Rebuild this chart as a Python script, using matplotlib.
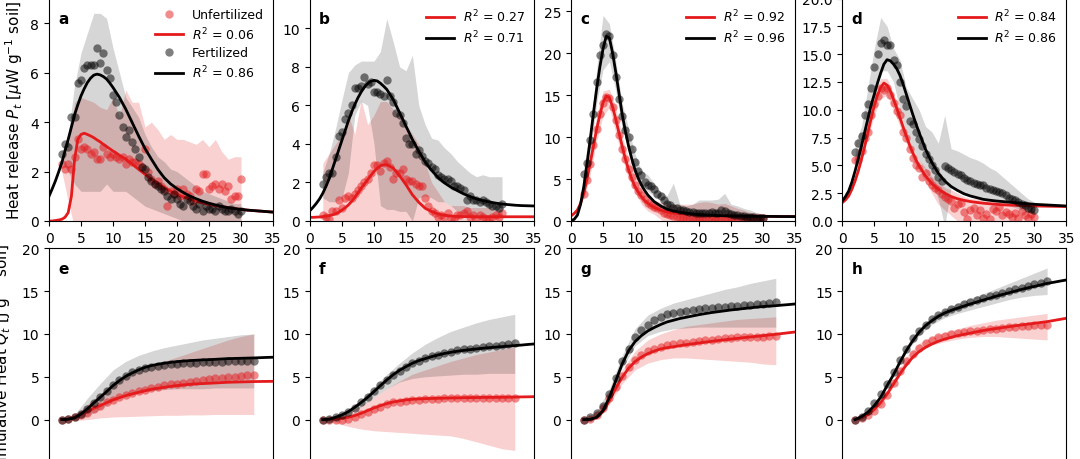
import numpy as np
import matplotlib
matplotlib.use('Agg')
import matplotlib.pyplot as plt

# ---- time grids (days) ----
t_pts_top = np.arange(2, 30.5, 0.5)
t_band_top = np.arange(2, 31, 1)
t_fit_top = np.concatenate([np.arange(0, 12, 0.5), np.arange(12, 36, 1)])
t_pts_bot = np.arange(2, 33, 1)
t_band_bot = np.arange(2, 33, 2)
t_fit_bot = np.arange(2, 36, 1)

r2_unf = ['0.06', '0.27', '0.92', '0.84']
r2_fer = ['0.86', '0.71', '0.96', '0.86']

# ---- heat release, measured points ----
a_unf = [2.3, 2.1, 2.3, 2.1, 2.6, 3.3, 2.9, 3.0, 2.9, 2.7, 2.8, 2.5, 2.5, 3.0, 2.7, 2.6, 2.7, 2.6, 2.5, 2.6,
         2.3, 2.5, 2.4, 2.4, 2.3, 2.2, 2.9, 2.0, 1.7, 1.5, 1.6, 1.4, 1.3, 0.6, 1.2, 1.1, 1.3, 1.0, 1.3, 1.1,
         1.0, 0.8, 1.3, 1.2, 1.9, 1.9, 1.3, 1.4, 1.5, 1.3, 1.5, 1.2, 1.4, 0.9, 1.0, 1.0, 1.7]
a_fer = [2.7, 3.1, 3.0, 4.2, 4.2, 5.6, 5.7, 6.2, 6.3, 6.3, 6.3, 7.0, 6.4, 6.8, 6.1, 5.8, 5.1, 4.8, 4.3, 3.8,
         3.4, 3.7, 3.2, 2.9, 2.6, 2.2, 2.1, 1.8, 1.6, 1.5, 1.4, 1.3, 1.2, 1.0, 0.9, 1.1, 0.9, 0.7, 0.6, 0.9,
         0.8, 0.6, 0.5, 0.7, 0.4, 0.6, 0.5, 0.5, 0.4, 0.6, 0.5, 0.4, 0.4, 0.5, 0.4, 0.3, 0.4]
b_unf = [0.3, 0.2, 0.1, 0.5, 0.5, 1.1, 0.7, 1.2, 1.3, 1.2, 1.4, 1.6, 1.8, 2.0, 2.2, 2.5, 2.9, 2.9, 2.6, 3.0,
         3.1, 2.8, 2.2, 2.5, 2.5, 2.7, 2.2, 2.1, 2.1, 1.9, 1.8, 1.8, 1.2, 0.8, 0.5, 0.4, 0.2, 0.3, 0.2, 0.4,
         0.1, 0.1, 0.3, 0.3, 0.4, 0.5, 0.2, 0.3, 0.1, 0.3, 0.2, 0.1, 0.1, 0.2, 0.3, 0.2, 0.4]
b_fer = [1.9, 2.3, 2.5, 2.5, 3.3, 4.4, 4.6, 5.3, 5.6, 6.0, 6.9, 6.9, 7.0, 7.5, 7.1, 7.2, 6.7, 6.7, 6.6, 6.5,
         7.3, 6.5, 6.2, 5.6, 5.5, 5.1, 4.3, 4.0, 4.0, 3.5, 3.7, 3.4, 3.1, 3.0, 2.8, 2.7, 2.4, 2.3, 2.2, 2.2,
         2.1, 1.8, 1.8, 1.7, 1.6, 1.1, 1.3, 1.1, 1.1, 1.0, 1.1, 1.0, 0.9, 0.8, 0.8, 0.7, 0.9]
c_unf = [3.2, 4.9, 6.8, 9.0, 11.0, 12.8, 14.0, 14.8, 14.6, 13.6, 12.0, 10.2, 8.6, 7.4, 6.2, 5.2, 4.3, 3.6, 3.1, 2.6,
         2.2, 1.9, 1.7, 1.5, 1.3, 1.0, 0.8, 0.7, 0.6, 0.5, 0.4, 0.4, 0.3, 0.3, 0.3, 0.3, 0.3, 0.4, 0.4, 0.3,
         0.3, 0.4, 0.3, 0.3, 0.3, 0.4, 0.3, 0.2, 0.3, 0.3, 0.2, 0.3, 0.2, 0.3, 0.2, 0.3, 0.3]
c_fer = [5.6, 6.9, 9.6, 12.8, 16.5, 19.8, 21.0, 22.3, 22.0, 19.8, 17.2, 14.5, 12.5, 10.8, 10.0, 8.6, 7.0, 6.0, 5.5, 4.6,
         4.3, 4.2, 3.8, 3.2, 3.0, 2.5, 2.0, 1.9, 1.6, 1.5, 1.3, 1.3, 1.2, 1.1, 1.1, 1.0, 1.0, 0.9, 1.0, 0.9,
         1.1, 1.0, 1.0, 1.3, 1.2, 0.9, 0.8, 0.7, 0.7, 0.6, 0.6, 0.5, 0.5, 0.5, 0.4, 0.4, 0.4]
d_unf = [5.5, 5.5, 6.3, 7.5, 8.0, 9.5, 10.5, 11.2, 12.0, 11.8, 12.0, 11.3, 10.6, 9.9, 9.5, 8.0, 7.5, 6.5, 5.7, 5.0,
         4.8, 4.0, 4.3, 3.6, 3.2, 3.0, 2.8, 2.4, 2.2, 2.0, 1.8, 1.2, 1.5, 1.6, 0.8, 0.2, 1.0, 1.2, 0.5, 1.0,
         0.3, 0.6, 0.2, 1.1, 0.9, 1.3, 0.5, 0.8, 0.6, 0.4, 0.7, 0.3, 0.9, 0.5, 0.3, 0.6, 0.4]
d_fer = [6.2, 7.0, 7.6, 9.5, 10.5, 12.0, 13.8, 15.0, 16.0, 16.3, 15.8, 15.8, 14.5, 14.0, 12.5, 11.0, 10.3, 9.0, 8.7, 8.0,
         7.4, 6.7, 6.0, 5.6, 5.0, 4.6, 4.0, 3.6, 4.9, 4.8, 4.6, 4.4, 4.2, 4.1, 3.9, 3.7, 3.6, 3.4, 3.3, 3.2,
         3.2, 3.0, 2.9, 2.8, 2.7, 2.6, 2.5, 2.3, 2.1, 2.0, 1.9, 1.7, 1.5, 1.4, 1.2, 1.1, 1.0]

# ---- heat release, spread between replicates ----
a_unf_lo = [2.0, 0.8, -0.3, -0.5, -0.5, -0.5, -0.5, -0.5, -0.5, -0.5, -0.5, -0.5, -0.5, -0.5, -0.5,
            -0.5, -0.5, -0.5, -0.5, -0.5, -0.5, -0.5, -0.5, -0.5, -0.5, -0.5, -0.5, -0.5, -0.5]
a_unf_hi = [2.6, 3.0, 4.8, 5.0, 4.9, 4.8, 4.6, 4.5, 5.0, 4.2, 5.3, 4.8, 4.8, 3.8, 4.0,
            3.7, 3.3, 3.5, 3.3, 3.3, 3.2, 3.1, 3.3, 3.0, 3.3, 2.8, 2.5, 2.6, 2.6]
a_fer_lo = [2.4, 2.0, 1.5, 1.2, 1.2, 1.2, 1.2, 1.5, 1.2, 1.2, 1.2, 1.0, 0.8, 0.6, 0.5,
            0.4, 0.3, 0.2, 0.1, 0.0, -0.2, -0.2, -0.2, -0.2, -0.2, -0.2, -0.2, -0.2, -0.2]
a_fer_hi = [2.8, 3.5, 5.5, 6.8, 7.6, 8.4, 8.4, 8.2, 7.0, 6.0, 5.0, 4.6, 4.2, 3.5, 3.0,
            2.6, 2.4, 2.1, 2.0, 1.8, 1.6, 1.4, 1.2, 1.1, 1.0, 0.9, 0.8, 0.7, 0.7]
b_unf_lo = [-0.5] * 29
b_unf_hi = [3.0, 3.5, 4.0, 4.5, 5.5, 4.5, 6.3, 5.0, 5.5, 6.2, 6.2, 5.8, 5.5, 5.0, 4.5,
            4.0, 3.0, 2.0, 1.5, 1.0, 0.8, 0.8, 0.8, 0.7, 0.7, 0.7, 0.7, 0.6, 0.6]
b_fer_lo = [1.2, 1.0, 1.0, 1.2, 2.5, 5.5, 6.2, 6.0, 4.0, 0.8, 0.6, 0.6, 0.5, 0.5, 0.0,
            1.2, 1.3, 1.2, 1.0, 1.0, 0.8, 0.5, 0.4, 0.3, 0.3, 0.2, 0.2, 0.2, 0.2]
b_fer_hi = [2.5, 3.5, 4.8, 6.3, 7.7, 8.1, 8.3, 8.3, 8.3, 8.8, 10.5, 9.3, 8.0, 7.8, 8.6,
            6.0, 5.0, 4.3, 4.2, 3.8, 3.5, 3.1, 2.8, 2.5, 2.3, 2.4, 2.3, 2.3, 2.3]
c_unf_lo = [2.5, 5.5, 9.5, 12.5, 13.5, 10.5, 7.5, 5.0, 3.5, 2.0, 1.2, 0.8, 0.2, -0.5, -0.5,
            -0.5, -0.5, -0.5, -0.5, -0.5, -0.5, -0.5, -0.5, -0.5, -0.5, -0.5, -0.5, -0.5, -0.5]
c_unf_hi = [4.0, 8.0, 12.5, 15.5, 15.7, 13.5, 10.0, 7.5, 5.5, 4.0, 3.0, 2.5, 2.2, 2.0, 2.0,
            2.0, 2.0, 2.0, 2.2, 2.3, 2.2, 2.0, 2.1, 1.8, 1.5, 1.3, 1.0, 1.0, 0.8]
c_fer_lo = [4.5, 8.0, 14.0, 18.0, 19.0, 15.5, 11.0, 8.5, 6.0, 4.5, 3.5, 3.0, 2.5, 1.5, 0.7,
            0.5, 0.3, -0.3, -0.3, -0.3, -0.3, -0.3, -0.3, -0.3, -0.3, -0.3, -0.3, -0.3, -0.3]
c_fer_hi = [6.5, 11.0, 18.0, 24.5, 23.5, 19.0, 14.0, 11.0, 8.0, 6.0, 5.5, 4.5, 3.5, 3.0, 4.5,
            2.0, 1.8, 2.0, 2.5, 2.5, 2.5, 2.6, 3.3, 2.0, 1.8, 1.5, 1.3, 1.0, 0.8]
d_unf_lo = [5.0, 5.8, 7.5, 9.5, 11.0, 11.3, 10.0, 8.5, 7.0, 5.5, 4.5, 3.5, 2.5, 1.5, 1.0,
            0.5, 0.0, -0.5, -0.5, -0.5, -0.5, -0.5, -0.5, -0.5, -0.5, -0.5, -0.5, -0.5, -0.5]
d_unf_hi = [6.0, 7.0, 9.0, 11.5, 12.8, 12.8, 11.5, 10.0, 8.0, 6.5, 5.5, 4.8, 4.0, 3.5, 3.0,
            2.8, 2.5, 2.2, 2.0, 2.0, 1.9, 1.9, 1.8, 1.8, 1.8, 1.7, 1.7, 1.6, 1.6]
d_fer_lo = [5.5, 6.5, 8.5, 11.0, 13.5, 13.5, 12.5, 10.0, 8.0, 6.5, 5.5, 4.5, 3.5, 2.0, -0.5,
            3.0, 2.8, 2.5, 2.3, 2.2, 2.0, 2.0, 1.8, 1.6, 1.4, 1.2, 1.0, 0.8, 0.6]
d_fer_hi = [7.0, 8.5, 12.0, 15.5, 18.3, 17.5, 15.5, 14.5, 12.0, 11.0, 10.0, 8.5, 8.0, 7.0, 9.5,
            6.5, 6.3, 6.0, 5.7, 5.5, 5.2, 4.8, 4.5, 4.0, 3.5, 3.0, 2.5, 2.0, 1.7]

# ---- heat release, fitted curves ----
a_unf_fit = [0.0, 0.0, 0.02, 0.04, 0.07, 0.15, 0.34, 1.0, 2.5, 3.3, 3.5, 3.55, 3.5, 3.44, 3.37, 3.28,
             3.2, 3.1, 3.01, 2.92, 2.83, 2.75, 2.66, 2.58,
             2.5, 2.3, 2.09, 1.89, 1.69, 1.52, 1.35, 1.21, 1.08, 0.97, 0.88, 0.8, 0.73, 0.67, 0.62, 0.58,
             0.54, 0.5, 0.47, 0.44, 0.42, 0.4, 0.38, 0.36]
a_fer_fit = [1.0, 1.3, 1.62, 1.98, 2.36, 2.83, 3.3, 3.8, 4.3, 4.7, 5.06, 5.35, 5.6, 5.78, 5.9, 5.94,
             5.91, 5.84, 5.74, 5.58, 5.4, 5.2, 5.0, 4.76,
             4.52, 3.98, 3.44, 2.93, 2.5, 2.09, 1.75, 1.5, 1.31, 1.15, 1.01, 0.9, 0.8, 0.72, 0.65, 0.59,
             0.54, 0.5, 0.47, 0.44, 0.42, 0.4, 0.38, 0.36]
b_unf_fit = [0.19, 0.19, 0.2, 0.21, 0.23, 0.25, 0.28, 0.32, 0.37, 0.46, 0.57, 0.69, 0.83, 1.02, 1.23, 1.46,
             1.7, 1.92, 2.14, 2.36, 2.57, 2.74, 2.87, 2.92,
             2.92, 2.75, 2.35, 1.88, 1.36, 0.97, 0.66, 0.49, 0.37, 0.3, 0.26, 0.24, 0.23, 0.23, 0.22, 0.22,
             0.22, 0.22, 0.22, 0.22, 0.22, 0.22, 0.22, 0.22]
b_fer_fit = [0.54, 0.72, 0.92, 1.15, 1.44, 1.8, 2.2, 2.7, 3.2, 3.7, 4.2, 4.7, 5.2, 5.65, 6.05, 6.4,
             6.7, 6.95, 7.13, 7.25, 7.3, 7.27, 7.15, 7.0,
             6.83, 6.31, 5.62, 4.92, 4.23, 3.62, 3.06, 2.63, 2.26, 1.98, 1.76, 1.58, 1.41, 1.27, 1.15, 1.06,
             0.99, 0.93, 0.88, 0.85, 0.82, 0.8, 0.79, 0.78]
c_unf_fit = [0.6, 0.9, 1.3, 2.1, 3.3, 5.0, 6.9, 8.9, 10.9, 12.6, 14.1, 14.9, 14.7, 13.6, 12.1, 10.5,
             8.9, 7.4, 6.1, 5.0, 4.1, 3.45, 2.9, 2.45,
             2.1, 1.6, 1.3, 1.08, 0.96, 0.87, 0.8, 0.76, 0.72, 0.69, 0.66, 0.64, 0.62, 0.6, 0.59, 0.58,
             0.57, 0.56, 0.56, 0.55, 0.54, 0.53, 0.53, 0.52]
c_fer_fit = [0.05, 0.2, 0.7, 2.0, 4.1, 6.8, 9.7, 12.8, 15.7, 18.3, 20.5, 22.0, 21.8, 20.0, 17.7, 15.2,
             12.7, 10.7, 8.9, 7.4, 6.1, 5.1, 4.3, 3.65,
             3.1, 2.3, 1.8, 1.4, 1.2, 1.05, 0.92, 0.84, 0.76, 0.72, 0.68, 0.65, 0.62, 0.6, 0.59, 0.58,
             0.57, 0.56, 0.56, 0.55, 0.54, 0.53, 0.53, 0.52]
d_unf_fit = [1.65, 1.9, 2.25, 2.85, 3.6, 4.5, 5.55, 6.7, 7.95, 9.2, 10.35, 11.3, 12.0, 12.4, 12.2, 11.7,
             10.95, 10.15, 9.3, 8.45, 7.65, 6.85, 6.15, 5.5,
             4.95, 4.05, 3.36, 2.85, 2.5, 2.2, 2.0, 1.86, 1.75, 1.67, 1.6, 1.55, 1.5, 1.46, 1.43, 1.41,
             1.39, 1.37, 1.35, 1.34, 1.33, 1.32, 1.31, 1.3]
d_fer_fit = [1.8, 2.2, 2.7, 3.5, 4.5, 5.6, 6.75, 8.0, 9.2, 10.4, 11.4, 12.4, 13.3, 14.1, 14.5, 14.4,
             14.1, 13.7, 13.1, 12.3, 11.4, 10.5, 9.6, 8.75,
             7.95, 6.45, 5.25, 4.3, 3.6, 3.1, 2.75, 2.45, 2.25, 2.1, 1.95, 1.87, 1.8, 1.75, 1.7, 1.65,
             1.6, 1.55, 1.5, 1.47, 1.44, 1.41, 1.38, 1.35]

# ---- cumulative heat, measured points ----
e_unf = [0, 0.1, 0.3, 0.5, 0.8, 1.2, 1.6, 2.0, 2.3, 2.6, 2.9, 3.1, 3.3, 3.5, 3.7, 3.8,
         4.0, 4.1, 4.2, 4.3, 4.4, 4.5, 4.6, 4.7, 4.8, 4.9, 5.0, 5.0, 5.1, 5.2, 5.2]
e_fer = [0, 0.1, 0.3, 0.7, 1.2, 1.9, 2.6, 3.3, 4.0, 4.6, 5.1, 5.5, 5.8, 6.0, 6.2, 6.3,
         6.4, 6.5, 6.5, 6.6, 6.6, 6.6, 6.7, 6.7, 6.7, 6.7, 6.8, 6.8, 6.8, 6.8, 6.8]
f_unf = [0, -0.05, -0.1, -0.05, 0.1, 0.3, 0.6, 0.9, 1.2, 1.5, 1.8, 2.0, 2.1, 2.2, 2.3, 2.3,
         2.4, 2.4, 2.4, 2.5, 2.5, 2.5, 2.5, 2.5, 2.5, 2.5, 2.5, 2.5, 2.5, 2.5, 2.5]
f_fer = [0, 0.1, 0.3, 0.5, 0.9, 1.4, 2.0, 2.6, 3.3, 4.0, 4.6, 5.2, 5.7, 6.2, 6.6, 6.9,
         7.2, 7.4, 7.6, 7.8, 7.9, 8.1, 8.2, 8.3, 8.4, 8.5, 8.6, 8.6, 8.7, 8.8, 8.9]
g_unf = [0, 0.1, 0.5, 1.3, 2.5, 3.8, 5.1, 6.2, 7.0, 7.6, 8.0, 8.3, 8.5, 8.7, 8.8, 8.9,
         9.0, 9.1, 9.2, 9.3, 9.3, 9.4, 9.5, 9.5, 9.6, 9.6, 9.7, 9.7, 9.7, 9.8, 9.8]
g_fer = [0.0, 0.3, 0.8, 1.6, 3.0, 4.8, 6.8, 8.3, 9.6, 10.5, 11.1, 11.6, 12.0, 12.3, 12.5, 12.6,
         12.7, 12.8, 12.9, 13.0, 13.0, 13.1, 13.2, 13.3, 13.3, 13.4, 13.4, 13.5, 13.5, 13.6, 13.7]
h_unf = [0, 0.2, 0.5, 1.0, 1.8, 2.9, 4.3, 5.7, 6.8, 7.7, 8.4, 8.9, 9.3, 9.6, 9.8, 9.95,
         10.1, 10.2, 10.3, 10.4, 10.5, 10.6, 10.6, 10.7, 10.8, 10.8, 10.9, 10.9, 11.0, 11.0, 11.0]
h_fer = [0, 0.3, 1.0, 1.9, 3.0, 4.2, 5.5, 7.0, 8.3, 9.5, 10.4, 11.1, 11.7, 12.2, 12.6, 12.9,
         13.2, 13.5, 13.7, 14.0, 14.2, 14.4, 14.6, 14.8, 15.0, 15.2, 15.4, 15.6, 15.8, 16.0, 16.2]

# ---- cumulative heat, spread ----
e_unf_lo = [0, -0.1, 0.0, 0.2, 0.3, 0.35, 0.4, 0.45, 0.5, 0.5, 0.55, 0.55, 0.6, 0.6, 0.6, 0.6]
e_unf_hi = [0, 0.5, 1.8, 3.0, 4.2, 5.0, 5.7, 6.2, 6.8, 7.3, 7.8, 8.3, 8.8, 9.3, 9.7, 10.0]
e_fer_lo = [0, 0.0, 0.4, 1.2, 2.2, 2.8, 3.2, 3.4, 3.5, 3.6, 3.6, 3.6, 3.7, 3.7, 3.7, 3.7]
e_fer_hi = [0, 0.6, 2.5, 4.2, 5.8, 6.8, 7.5, 8.0, 8.4, 8.7, 9.0, 9.3, 9.5, 9.7, 9.9, 10.0]
f_unf_lo = [0, -0.4, -0.8, -1.1, -1.3, -1.4, -1.5, -1.6, -1.7, -1.8, -1.9, -2.2, -2.6, -3.0, -3.4, -3.6]
f_unf_hi = [0, 0.3, 0.8, 1.6, 2.6, 3.6, 4.5, 5.3, 5.8, 6.3, 6.8, 7.2, 7.6, 7.9, 8.2, 8.5]
f_fer_lo = [0, 0.2, 0.7, 1.5, 2.6, 3.6, 4.4, 4.8, 5.0, 5.1, 5.2, 5.3, 5.3, 5.4, 5.4, 5.4]
f_fer_hi = [0, 0.4, 1.1, 2.3, 3.8, 5.3, 6.6, 7.8, 8.8, 9.6, 10.3, 10.8, 11.3, 11.7, 12.0, 12.3]
g_unf_lo = [0, 0.1, 1.8, 4.2, 5.8, 6.6, 7.0, 7.2, 7.2, 7.1, 7.0, 6.9, 6.8, 6.7, 6.5, 6.4]
g_unf_hi = [0, 0.5, 2.8, 5.8, 8.0, 9.3, 10.0, 10.5, 10.9, 11.1, 11.3, 11.5, 11.7, 11.8, 11.9, 12.0]
g_fer_lo = [0, 0.6, 2.5, 6.0, 8.6, 9.8, 10.3, 10.6, 10.7, 10.8, 10.8, 10.8, 10.8, 10.8, 10.8, 10.8]
g_fer_hi = [0, 1.0, 3.6, 7.5, 10.6, 12.2, 13.0, 13.6, 14.0, 14.4, 14.8, 15.2, 15.5, 15.9, 16.2, 16.5]
h_unf_lo = [0, 0.4, 1.5, 3.9, 6.3, 7.9, 8.7, 9.1, 9.4, 9.6, 9.7, 9.7, 9.6, 9.5, 9.4, 9.3]
h_unf_hi = [0, 0.7, 2.1, 4.7, 7.3, 8.9, 9.7, 10.2, 10.6, 11.0, 11.3, 11.6, 11.8, 12.0, 12.2, 12.4]
h_fer_lo = [0, 0.8, 2.6, 5.2, 7.9, 9.8, 11.1, 11.9, 12.4, 12.8, 13.2, 13.6, 14.0, 14.3, 14.5, 14.6]
h_fer_hi = [0, 1.0, 3.0, 5.6, 8.6, 10.7, 12.0, 12.9, 13.6, 14.2, 14.7, 15.3, 15.9, 16.5, 17.1, 17.7]

# ---- cumulative heat, fitted curves ----
e_unf_fit = [0, 0.05, 0.27, 0.58, 0.93, 1.32, 1.63, 1.98, 2.3, 2.56, 2.8, 3.0, 3.19, 3.37, 3.54, 3.66, 3.77,
             3.88, 3.97, 4.05, 4.12, 4.17, 4.21, 4.24, 4.28, 4.32, 4.36, 4.38, 4.4, 4.42, 4.44, 4.45, 4.46, 4.47]
e_fer_fit = [0, 0.05, 0.2, 0.66, 1.25, 1.95, 2.6, 3.27, 3.97, 4.55, 5.06, 5.45, 5.8, 6.1, 6.3, 6.46, 6.58,
             6.68, 6.77, 6.83, 6.89, 6.93, 6.97, 7.0, 7.04, 7.08, 7.12, 7.14, 7.16, 7.18, 7.2, 7.23, 7.26, 7.28]
f_unf_fit = [0, 0.02, 0.05, 0.15, 0.27, 0.47, 0.74, 1.05, 1.36, 1.63, 1.87, 2.06, 2.18, 2.3, 2.37, 2.42, 2.45,
             2.47, 2.49, 2.51, 2.53, 2.54, 2.56, 2.57, 2.58, 2.59, 2.6, 2.6, 2.61, 2.62, 2.63, 2.65, 2.66, 2.68]
f_fer_fit = [0, 0.05, 0.27, 0.55, 0.93, 1.44, 2.0, 2.6, 3.27, 3.97, 4.63, 5.25, 5.76, 6.19, 6.58, 6.89, 7.12,
             7.35, 7.55, 7.72, 7.86, 7.98, 8.08, 8.17, 8.25, 8.33, 8.4, 8.46, 8.52, 8.58, 8.64, 8.7, 8.77, 8.83]
g_unf_fit = [0, 0.03, 0.2, 0.93, 2.2, 3.66, 4.94, 6.0, 6.77, 7.3, 7.7, 8.0, 8.25, 8.4, 8.5, 8.63, 8.75,
             8.85, 8.95, 9.05, 9.14, 9.23, 9.32, 9.4, 9.48, 9.57, 9.65, 9.72, 9.8, 9.88, 9.96, 10.05, 10.14, 10.23]
g_fer_fit = [0, 0.04, 0.27, 1.05, 2.6, 4.55, 6.5, 8.05, 9.1, 9.8, 10.35, 10.75, 11.1, 11.4, 11.6, 11.8, 11.95,
             12.1, 12.25, 12.38, 12.5, 12.6, 12.7, 12.8, 12.88, 12.97, 13.05, 13.13, 13.2, 13.25, 13.3, 13.37, 13.43, 13.5]
h_unf_fit = [0, 0.2, 0.6, 1.2, 2.0, 3.0, 4.16, 5.33, 6.38, 7.28, 7.94, 8.44, 8.83, 9.14, 9.4, 9.6, 9.8,
             9.95, 10.1, 10.25, 10.4, 10.52, 10.63, 10.74, 10.85, 10.95, 11.05, 11.15, 11.24, 11.34, 11.44, 11.57, 11.7, 11.83]
h_fer_fit = [0, 0.35, 0.86, 1.63, 2.6, 3.97, 5.25, 6.7, 8.05, 9.2, 10.2, 10.97, 11.55, 12.06, 12.45, 12.75, 13.0,
             13.25, 13.5, 13.72, 13.95, 14.17, 14.4, 14.6, 14.8, 15.0, 15.2, 15.38, 15.55, 15.72, 15.9, 16.03, 16.17, 16.3]

RED = '#e41a1c'

W, H = 1080, 460
fig = plt.figure(figsize=(W / 100, H / 100), dpi=100)
plt.rcParams['font.size'] = 10


def px_axes(x0, x1, ytop, ybot):
    return fig.add_axes([x0 / W, 1 - ybot / H, (x1 - x0) / W, (ybot - ytop) / H])


def panel(ax, letter, tp, tb, tf, unf, fer, unf_lo, unf_hi, fer_lo, fer_hi,
          unf_fit, fer_fit, ms=6, r2=None, full_legend=False):
    ax.fill_between(tb, unf_lo, unf_hi, color=RED, alpha=0.2, lw=0)
    ax.fill_between(tb, fer_lo, fer_hi, color='k', alpha=0.16, lw=0)
    ax.plot(tp, unf, 'o', color=RED, alpha=0.5, ms=ms, mec='none',
            label='Unfertilized' if full_legend else None)
    ax.plot(tf, unf_fit, color=RED, lw=2.0,
            label=r'$R^2$ = ' + r2[0] if r2 else None)
    ax.plot(tp, fer, 'o', color='k', alpha=0.5, ms=ms, mec='none',
            label='Fertilized' if full_legend else None)
    ax.plot(tf, fer_fit, color='k', lw=2.0,
            label=r'$R^2$ = ' + r2[1] if r2 else None)
    ax.set_xlim(0, 35)
    ax.set_xticks(range(0, 36, 5))
    ax.text(0.04, 0.945, letter, transform=ax.transAxes, fontweight='bold',
            fontsize=11, va='top', ha='left')
    if r2:
        ax.legend(loc='upper right', frameon=False, fontsize=9, numpoints=1,
                  borderaxespad=0.35, handletextpad=0.7, labelspacing=0.35,
                  handlelength=2.2)


lefts = [49, 310, 571, 842.3]
width = 224

top = [
    ('a', a_unf, a_fer, a_unf_lo, a_unf_hi, a_fer_lo, a_fer_hi, a_unf_fit, a_fer_fit, 9.0),
    ('b', b_unf, b_fer, b_unf_lo, b_unf_hi, b_fer_lo, b_fer_hi, b_unf_fit, b_fer_fit, 11.55),
    ('c', c_unf, c_fer, c_unf_lo, c_unf_hi, c_fer_lo, c_fer_hi, c_unf_fit, c_fer_fit, 26.5),
    ('d', d_unf, d_fer, d_unf_lo, d_unf_hi, d_fer_lo, d_fer_hi, d_unf_fit, d_fer_fit, 20.0),
]
for i, (let, u, f, ul, uh, fl, fh, uf, ff, ymax) in enumerate(top):
    ax = px_axes(lefts[i], lefts[i] + width, -0.5, 222)
    panel(ax, let, t_pts_top, t_band_top, t_fit_top, u, f, ul, uh, fl, fh, uf, ff,
          r2=(r2_unf[i], r2_fer[i]), full_legend=(i == 0))
    ax.set_ylim(0, ymax)
    if i == 0:
        ax.set_ylabel(r'Heat release $P_t$ [$\mu$W g$^{-1}$ soil]', fontsize=11)

bottom = [
    ('e', e_unf, e_fer, e_unf_lo, e_unf_hi, e_fer_lo, e_fer_hi, e_unf_fit, e_fer_fit),
    ('f', f_unf, f_fer, f_unf_lo, f_unf_hi, f_fer_lo, f_fer_hi, f_unf_fit, f_fer_fit),
    ('g', g_unf, g_fer, g_unf_lo, g_unf_hi, g_fer_lo, g_fer_hi, g_unf_fit, g_fer_fit),
    ('h', h_unf, h_fer, h_unf_lo, h_unf_hi, h_fer_lo, h_fer_hi, h_unf_fit, h_fer_fit),
]
for i, (let, u, f, ul, uh, fl, fh, uf, ff) in enumerate(bottom):
    ax = px_axes(lefts[i], lefts[i] + width, 249.3, 472)
    panel(ax, let, t_pts_bot, t_band_bot, t_fit_bot, u, f, ul, uh, fl, fh, uf, ff)
    ax.set_ylim(-6, 20)
    ax.set_yticks([-5, 0, 5, 10, 15, 20])
    if i == 0:
        ax.set_ylabel(r'Cumulative Heat $Q_t$ [J g$^{-1}$ soil]', fontsize=11)

fig.savefig('out.png', dpi=100)
